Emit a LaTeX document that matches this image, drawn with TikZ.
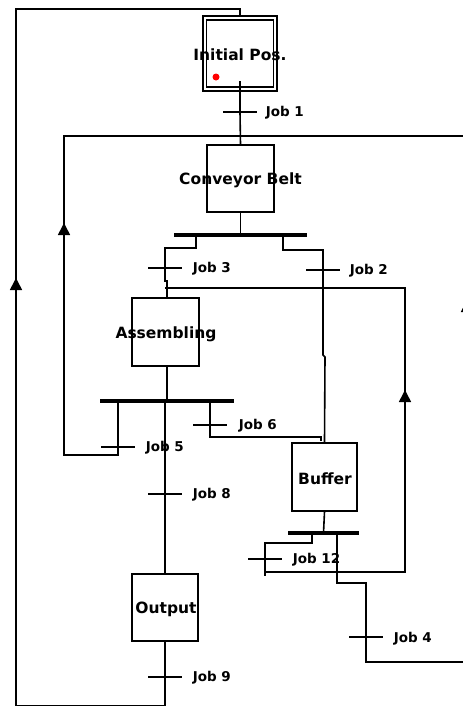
\documentclass[tikz,border=0pt]{standalone}
\usepackage{fontspec}
\setmainfont{DejaVu Sans}
\usetikzlibrary{arrows.meta}
\begin{document}
\begin{tikzpicture}[x=1pt,y=-1pt,line width=1.6pt,
  stepbox/.style={draw,inner sep=0pt,line width=1.6pt},
  title/.style={font=\fontsize{15.5}{17}\selectfont\bfseries,inner sep=0pt},
  lbl/.style={font=\fontsize{13.5}{15}\selectfont\bfseries,inner sep=0pt,anchor=west},
  tick/.style={fill=black,inner sep=0pt,minimum width=34pt,minimum height=1.6pt},
  bar/.style={fill=black,inner sep=0pt,minimum height=4.5pt},
  arr/.style={-{Triangle[width=12pt,length=12pt]}}]
\path[use as bounding box] (0,0) rectangle (463,707);
\clip (0,0) rectangle (463,707);

% steps
\node[stepbox,minimum width=74pt,minimum height=75pt] (ip) at (240,53.5) {};
\node[stepbox,minimum width=67pt,minimum height=67pt] (ipin) at (240,53.5) {};
\node[title] (iptxt) at (240,55) {Initial Pos.};
\fill[red] (216,77) circle (3.5pt);
\node[stepbox,minimum width=67pt,minimum height=67pt] (cb) at (240.5,178.5) {};
\node[title] (cbtxt) at (240.5,180) {Conveyor Belt};
\node[stepbox,minimum width=67pt,minimum height=68pt] (as) at (165.5,332) {};
\node[title] (astxt) at (166,334) {Assembling};
\node[stepbox,minimum width=65pt,minimum height=68pt] (bu) at (324.5,477) {};
\node[title] (butxt) at (325,479) {Buffer};
\node[stepbox,minimum width=66pt,minimum height=67pt] (ou) at (165,607.5) {};
\node[title] (outxt) at (166,609) {Output};

% bars
\node[bar,minimum width=133pt] (b1) at (240.5,235) {};
\node[bar,minimum width=134pt] (b2) at (167,401) {};
\node[bar,minimum width=71pt] (b3) at (323.5,533) {};

% transitions
\node[tick] (t1) at (240,112) {};
\node[lbl] at (265,112.5) {Job 1};
\node[tick] (t3) at (165,268) {};
\node[lbl] at (192,269) {Job 3};
\node[tick] (t2) at (323,270) {};
\node[lbl] at (349,271) {Job 2};
\node[tick] (t6) at (210,425) {};
\node[lbl] at (238,425.5) {Job 6};
\node[tick] (t5) at (118,447) {};
\node[lbl] at (145,448) {Job 5};
\node[tick] (t8) at (165,494) {};
\node[lbl] at (192,495) {Job 8};
\node[tick] (t12) at (265,559) {};
\node[lbl] at (292,559.5) {Job 12};
\node[tick] (t4) at (366,637) {};
\node[lbl] at (393,638.5) {Job 4};
\node[tick] (t9) at (165,677) {};
\node[lbl] at (192,677.5) {Job 9};

% coordinates
\coordinate (ipout) at (240,81);
\coordinate (tl) at (16,9);
\coordinate (bl) at (16,705.5);
\coordinate (a1) at (16,278);
\coordinate (l1) at (64,136);
\coordinate (a2) at (64,223);
\coordinate (r1) at (470,136);
\coordinate (a4) at (467,300);
\coordinate (r2) at (467,662);
\coordinate (a3) at (405,390);

% main flow
\draw (ipout) -- (t1.center) -- (cb.north);
\draw (cb.south) -- (b1.center);
% left branch of b1 -> Job 3 -> Assembling
\draw (196,235) -- (196,248) -- (165,248) -- (t3.center) -- (165,281) -- (167,281) -- (as.north -| 167,0);
% right branch of b1 -> Job 2 -> Buffer
\draw (283,235) -- (283,250) -- (323,250) -- (t2.center) -- (323,355) -- (325,357) -- (bu.north);
\draw (as.south -| 167,0) -- (b2.center);
% b2 branches
\draw (118,401) -- (t5.center) -- (118,455) -- (64,455) -- (l1) -- (r1);
\draw[arr] (64,240) -- (a2);
\draw (210,401) -- (t6.center) -- (210,437) -- (321,437) -- (321,441);
\draw (165,401) -- (t8.center) -- (ou.north);
% output to initial
\draw (ou.south) -- (t9.center) -- (165,705.5) -- (bl) -- (tl) -- (ip.north |- tl) -- (ip.north);
\draw[arr] (16,295) -- (a1);
% Buffer exits
\draw (bu.south) -- (b3.center);
\draw (312,533) -- (312,543) -- (265,543) -- (t12.center) -- (265,576);
\draw (265,572) -- (405,572) -- (405,288) -- (165,288);
\draw[arr] (405,407) -- (a3);
\draw (337,533) -- (337,583) -- (366,583) -- (t4.center) -- (366,662) -- (r2) -- (467,136);
\draw[arr] (467,317) -- (a4);
\end{tikzpicture}
\end{document}
